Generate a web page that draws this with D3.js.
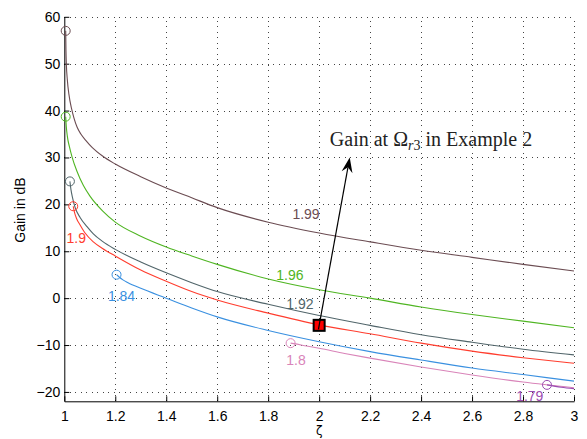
<!DOCTYPE html>
<html><head><meta charset="utf-8">
<script src="https://cdn.jsdelivr.net/npm/d3@7"></script>
<style>body{margin:0;background:#fff} svg{display:block}</style>
</head><body><svg id="c" width="587" height="439"></svg>
<script>
// ---- data ----
const xTicks = [1, 1.2, 1.4, 1.6, 1.8, 2, 2.2, 2.4, 2.6, 2.8, 3];
const yTicks = [-20, -10, 0, 10, 20, 30, 40, 50, 60];

const s199 = [[1.0055,57.0],[1.0065,53.0],[1.008,50.0],[1.012,46.5],[1.018,43.5],[1.029,40.3],[1.038,38.4],[1.05,36.5],[1.065,35.0],[1.085,33.6],[1.11,32.1],[1.15,30.3],[1.2,28.6],[1.3,25.9],[1.4,23.5],[1.5,21.4],[1.6,19.3],[1.8,16.2],[2.0,13.9],[2.2,12.0],[2.4,10.2],[2.6,8.7],[2.8,7.2],[3.0,5.8]];
const s196 = [[1.0055,38.7],[1.008,36.5],[1.012,34.5],[1.02,32.3],[1.03,30.2],[1.05,27.0],[1.075,24.0],[1.1,21.8],[1.15,18.6],[1.2,16.2],[1.3,13.2],[1.4,10.9],[1.5,9.0],[1.6,7.2],[1.8,4.1],[2.0,1.8],[2.2,0.0],[2.4,-1.9],[2.6,-3.5],[2.8,-4.9],[3.0,-6.3]];
const s192 = [[1.022,24.9],[1.026,23.2],[1.032,21.5],[1.042,19.4],[1.062,17.2],[1.09,15.2],[1.114,13.7],[1.15,12.1],[1.2,10.4],[1.3,7.7],[1.4,5.4],[1.5,3.3],[1.6,1.4],[1.8,-1.3],[2.0,-3.7],[2.2,-5.8],[2.4,-7.8],[2.6,-9.4],[2.8,-10.9],[3.0,-12.1]];
const s19  = [[1.035,19.6],[1.04,18.3],[1.048,17.0],[1.062,15.6],[1.08,14.0],[1.114,12.0],[1.15,10.6],[1.2,9.0],[1.3,6.0],[1.4,3.6],[1.5,1.4],[1.6,-0.4],[1.8,-3.2],[2.0,-5.7],[2.2,-7.6],[2.4,-9.6],[2.6,-11.3],[2.8,-12.7],[3.0,-13.9]];
const s184 = [[1.205,5.0],[1.215,4.5],[1.23,3.9],[1.25,3.3],[1.3,2.1],[1.4,0.0],[1.5,-2.1],[1.6,-4.0],[1.8,-6.9],[2.0,-9.3],[2.2,-11.4],[2.4,-13.2],[2.6,-14.9],[2.8,-16.3],[3.0,-17.7]];
const s18  = [[1.888,-9.6],[1.9,-9.7],[1.95,-10.2],[2.0,-10.7],[2.1,-11.8],[2.2,-12.8],[2.4,-14.7],[2.6,-16.4],[2.8,-17.9],[3.0,-19.1]];
const s179 = [[2.894,-18.5],[2.95,-19.0],[3.0,-19.3]];

const seriesData   = [s199, s196, s192, s19, s184, s18, s179];
const seriesNames  = ["1.99", "1.96", "1.92", "1.9", "1.84", "1.8", "1.79"];
const seriesColors = ["#6b4c52", "#4fb522", "#51656a", "#ff3d2e", "#3a90e0", "#d984b9", "#9b4db2"];
const labelAt      = [[1.895,16.8],[1.832,3.9],[1.871,-2.4],[1.009,11.8],[1.171,-0.7],[1.871,-14.3],[2.773,-21.9]];

const highlight = [2.0, -5.8];
const arrowTip  = [2.12, 30.0];
const noteAt    = [2.042, 32.4];

// ---- drawing ----
const svg = d3.select("#c");
svg.append("rect").attr("width",587).attr("height",439).attr("fill","#fff");
const x = d3.scaleLinear().domain([1,3]).range([64.3,574]);
const y = d3.scaleLinear().domain([-22,60]).range([401.3,16.8]);

const grid = svg.append("g").attr("stroke","#444").attr("stroke-width",1).attr("stroke-dasharray","1,4.5").attr("shape-rendering","crispEdges");
grid.selectAll("line.v").data(xTicks.slice(1)).join("line").attr("class","v")
  .attr("x1",d=>Math.round(x(d))+0.5).attr("x2",d=>Math.round(x(d))+0.5).attr("y1",y(-22)).attr("y2",y(60));
grid.selectAll("line.h").data(yTicks).join("line").attr("class","h")
  .attr("y1",d=>Math.round(y(d))+0.5).attr("y2",d=>Math.round(y(d))+0.5).attr("x1",x(1)).attr("x2",x(3));

const fmt = d3.format("");
const gx = svg.append("g").attr("transform",`translate(0,${y(-22)})`)
  .call(d3.axisBottom(x).tickValues(xTicks).tickFormat(fmt).tickSize(-5).tickSizeOuter(0).tickPadding(10));
const gy = svg.append("g").attr("transform",`translate(${x(1)},0)`)
  .call(d3.axisLeft(y).tickValues(yTicks).tickFormat(fmt).tickSize(-5).tickSizeOuter(0).tickPadding(4));
[gx,gy].forEach(g=>{
  g.selectAll("text").attr("font-family","'Liberation Sans', Arial, sans-serif").attr("font-size",14).attr("fill","#000");
  g.selectAll("line,path").attr("stroke","#000");
});

const line = d3.line().x(d=>x(d[0])).y(d=>y(d[1])).curve(d3.curveMonotoneX);
seriesData.forEach((s,i)=>{
  svg.append("path").attr("d",line(s)).attr("fill","none").attr("stroke",seriesColors[i]).attr("stroke-width",1.1);
  svg.append("circle").attr("cx",x(s[0][0])).attr("cy",y(s[0][1])).attr("r",4.5)
    .attr("fill","none").attr("stroke",seriesColors[i]).attr("stroke-width",1);
  svg.append("text").attr("x",x(labelAt[i][0])).attr("y",y(labelAt[i][1]))
    .attr("font-family","'Liberation Sans', Arial, sans-serif").attr("font-size",14)
    .attr("fill",seriesColors[i]).text(seriesNames[i]);
});

// highlighted point
const hx = x(highlight[0]), hy = y(highlight[1]);
svg.append("rect").attr("x",hx-6.5).attr("y",hy-6.5).attr("width",13).attr("height",13).attr("fill","#000");
svg.append("rect").attr("x",hx-4.5).attr("y",hy-4.5).attr("width",9).attr("height",9).attr("fill","#ff0000");

// arrow
const tx = x(arrowTip[0]), ty = y(arrowTip[1]);
const ang = Math.atan2(ty-hy, tx-hx);
const L = 15, W = 5.5, N = 10;
const bx = tx - L*Math.cos(ang), by = ty - L*Math.sin(ang);
const nx = tx - N*Math.cos(ang), ny = ty - N*Math.sin(ang);
const px = -Math.sin(ang), py = Math.cos(ang);
const sx = hx - 4*Math.cos(ang), sy = hy - 4*Math.sin(ang);
svg.append("line").attr("x1",sx).attr("y1",sy).attr("x2",nx).attr("y2",ny).attr("stroke","#000").attr("stroke-width",1.2);
svg.append("path").attr("d",`M${tx},${ty}L${bx+W*px},${by+W*py}L${nx},${ny}L${bx-W*px},${by-W*py}Z`).attr("fill","#000");

// annotation text
const note = svg.append("text").attr("x",x(noteAt[0])).attr("y",y(noteAt[1]))
  .attr("font-family","'Liberation Serif', 'Times New Roman', serif").attr("font-size",20).attr("fill","#222");
note.append("tspan").text("Gain at Ω");
note.append("tspan").attr("font-style","italic").attr("font-size",14).attr("dy",4).text("r");
note.append("tspan").attr("font-size",14).text("3");
note.append("tspan").attr("dy",-4).text(" in Example 2");

// axis titles
svg.append("text").attr("x",x(2)).attr("y",435).attr("text-anchor","middle")
  .attr("font-family","'DejaVu Sans', sans-serif").attr("font-size",12).text("ζ");
svg.append("text").attr("transform","translate(25,210) rotate(-90)").attr("text-anchor","middle")
  .attr("font-family","'Liberation Sans', Arial, sans-serif").attr("font-size",14).text("Gain in dB");
</script></body></html>
